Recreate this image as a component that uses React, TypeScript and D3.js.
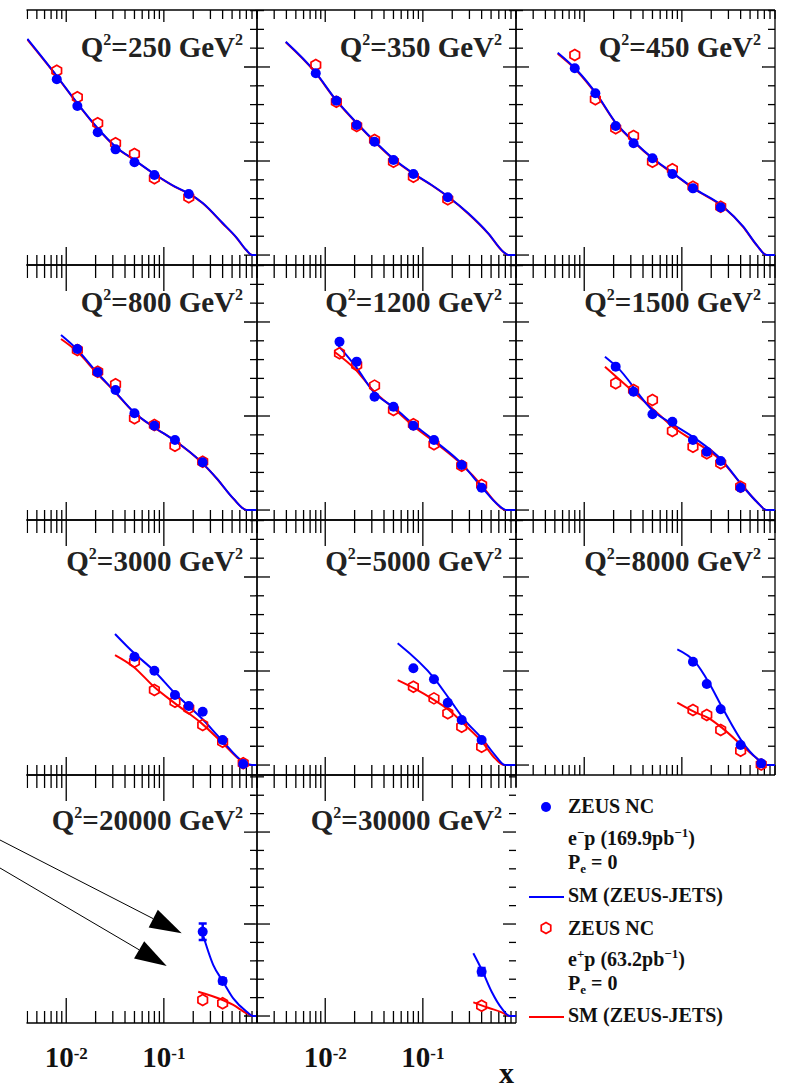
import React from "react";
import * as d3 from "d3";

type Pt = [number, number];

// ---------- DATA (y in units of major y-tick spacing, 0 = bottom floor) ----------
const q2Labels = ["250", "350", "450", "800", "1200", "1500", "3000", "5000", "8000", "20000", "30000"];

const q250_x = [0.008, 0.013, 0.021, 0.032, 0.05, 0.08, 0.18];
const q250_em = [1.869, 1.585, 1.305, 1.124, 0.986, 0.851, 0.649];
const q250_ep = [1.961, 1.678, 1.401, 1.188, 1.074, 0.816, 0.614];
const q250_smEm: Pt[] = [[0.004, 2.298], [0.008, 1.904], [0.013, 1.614], [0.021, 1.348], [0.032, 1.152], [0.05, 1.011], [0.08, 0.862], [0.13, 0.727], [0.18, 0.656], [0.25, 0.553], [0.4, 0.34], [0.55, 0.191], [0.7, 0.053], [0.8, 0], [0.9, 0]];
const q250_smEp: Pt[] = [[0.004, 2.29], [0.008, 1.9], [0.013, 1.61], [0.021, 1.345], [0.032, 1.15], [0.05, 1.009], [0.08, 0.86], [0.13, 0.725], [0.18, 0.652], [0.25, 0.55], [0.4, 0.336], [0.55, 0.188], [0.7, 0.05], [0.8, 0], [0.9, 0]];

const q350_x = [0.008, 0.013, 0.021, 0.032, 0.05, 0.08, 0.18];
const q350_em = [1.933, 1.641, 1.383, 1.205, 1.011, 0.862, 0.614];
const q350_ep = [2.021, 1.631, 1.372, 1.223, 0.993, 0.833, 0.593];
const q350_smEm: Pt[] = [[0.00394, 2.269], [0.00785, 1.95], [0.0129, 1.649], [0.0215, 1.394], [0.0324, 1.205], [0.0506, 1.018], [0.0817, 0.862], [0.123, 0.745], [0.182, 0.62], [0.292, 0.444], [0.468, 0.231], [0.667, 0.035], [0.75, 0], [0.9, 0]];
const q350_smEp: Pt[] = [[0.00394, 2.262], [0.00785, 1.945], [0.0129, 1.645], [0.0215, 1.39], [0.0324, 1.2], [0.0506, 1.014], [0.0817, 0.858], [0.123, 0.742], [0.182, 0.617], [0.292, 0.44], [0.468, 0.228], [0.667, 0.033], [0.75, 0], [0.9, 0]];

const q450_x = [0.008, 0.013, 0.021, 0.032, 0.05, 0.08, 0.13, 0.25];
const q450_em = [1.986, 1.72, 1.372, 1.188, 1.029, 0.862, 0.709, 0.507];
const q450_ep = [2.128, 1.656, 1.348, 1.266, 0.993, 0.912, 0.727, 0.514];
const q450_smEm: Pt[] = [[0.00535, 2.152], [0.00838, 1.968], [0.0136, 1.702], [0.0215, 1.394], [0.0324, 1.205], [0.0518, 1.018], [0.0817, 0.869], [0.133, 0.709], [0.266, 0.514], [0.426, 0.301], [0.585, 0.106], [0.74, 0], [0.9, 0]];
const q450_smEp: Pt[] = [[0.00535, 2.14], [0.00838, 1.96], [0.0136, 1.695], [0.0215, 1.39], [0.0324, 1.2], [0.0518, 1.014], [0.0817, 0.865], [0.133, 0.705], [0.266, 0.51], [0.426, 0.298], [0.585, 0.104], [0.74, 0], [0.9, 0]];

const q800_x = [0.013, 0.021, 0.032, 0.05, 0.08, 0.13, 0.25];
const q800_em = [1.713, 1.465, 1.277, 1.029, 0.897, 0.745, 0.507];
const q800_ep = [1.702, 1.471, 1.337, 0.976, 0.904, 0.684, 0.514];
const q800_smEm: Pt[] = [[0.00884, 1.862], [0.0128, 1.713], [0.0205, 1.465], [0.0316, 1.259], [0.0487, 1.046], [0.078, 0.886], [0.127, 0.745], [0.244, 0.507], [0.348, 0.337], [0.514, 0.124], [0.706, 0], [0.9, 0]];
const q800_smEp: Pt[] = [[0.00884, 1.819], [0.0128, 1.69], [0.0205, 1.458], [0.0316, 1.255], [0.0487, 1.043], [0.078, 0.884], [0.127, 0.743], [0.244, 0.505], [0.348, 0.335], [0.514, 0.122], [0.706, 0], [0.9, 0]];

const q1200_x = [0.014, 0.021, 0.032, 0.05, 0.08, 0.13, 0.25, 0.4];
const q1200_em = [1.79, 1.578, 1.205, 1.099, 0.897, 0.745, 0.479, 0.237];
const q1200_ep = [1.667, 1.543, 1.323, 1.064, 0.912, 0.699, 0.471, 0.266];
const q1200_smEm: Pt[] = [[0.0136, 1.748], [0.0212, 1.507], [0.0311, 1.259], [0.0518, 1.082], [0.0817, 0.904], [0.133, 0.734], [0.254, 0.486], [0.406, 0.237], [0.593, 0.053], [0.723, 0], [0.9, 0]];
const q1200_smEp: Pt[] = [[0.0124, 1.684], [0.0202, 1.5], [0.0311, 1.27], [0.0518, 1.07], [0.0817, 0.886], [0.133, 0.72], [0.254, 0.479], [0.406, 0.255], [0.548, 0.088], [0.7, 0], [0.9, 0]];

const q1500_x = [0.021, 0.032, 0.05, 0.08, 0.13, 0.18, 0.25, 0.4];
const q1500_em = [1.525, 1.259, 1.018, 0.939, 0.745, 0.62, 0.521, 0.237];
const q1500_ep = [1.348, 1.277, 1.17, 0.84, 0.674, 0.603, 0.497, 0.248];
const q1500_smEm: Pt[] = [[0.0163, 1.631], [0.0215, 1.525], [0.0518, 1.046], [0.0817, 0.91], [0.136, 0.763], [0.256, 0.532], [0.426, 0.248], [0.585, 0.088], [0.74, 0], [0.9, 0]];
const q1500_smEp: Pt[] = [[0.0163, 1.525], [0.0518, 1.064], [0.0817, 0.88], [0.136, 0.727], [0.256, 0.52], [0.426, 0.248], [0.585, 0.088], [0.74, 0], [0.9, 0]];

const q3000_x = [0.05, 0.08, 0.13, 0.18, 0.25, 0.4, 0.65];
const q3000_em = [1.152, 1.003, 0.745, 0.628, 0.567, 0.266, 0.011];
const q3000_ep = [1.099, 0.798, 0.674, 0.603, 0.426, 0.248, 0.018];
const q3000_smEm: Pt[] = [[0.0316, 1.394], [0.0498, 1.188], [0.0792, 1.003], [0.13, 0.763], [0.244, 0.497], [0.392, 0.266], [0.652, 0.035], [0.8, 0], [0.9, 0]];
const q3000_smEp: Pt[] = [[0.0316, 1.17], [0.0487, 1.046], [0.0792, 0.833], [0.13, 0.656], [0.244, 0.443], [0.401, 0.231], [0.603, 0.053], [0.72, 0], [0.9, 0]];

const q5000_x = [0.08, 0.13, 0.18, 0.25, 0.4];
const q5000_em = [1.029, 0.912, 0.663, 0.479, 0.266];
const q5000_ep = [0.833, 0.709, 0.55, 0.407, 0.195];
const q5000_smEm: Pt[] = [[0.0552, 1.295], [0.131, 0.922], [0.185, 0.709], [0.259, 0.497], [0.416, 0.266], [0.548, 0.106], [0.694, 0], [0.9, 0]];
const q5000_smEp: Pt[] = [[0.0552, 0.904], [0.0817, 0.816], [0.131, 0.691], [0.185, 0.585], [0.259, 0.443], [0.416, 0.231], [0.548, 0.071], [0.68, 0], [0.9, 0]];

const q8000_x = [0.13, 0.18, 0.25, 0.4, 0.65];
const q8000_em = [1.099, 0.862, 0.593, 0.213, 0.018];
const q8000_ep = [0.585, 0.532, 0.372, 0.152, 0.005];
const q8000_smEm: Pt[] = [[0.0898, 1.231], [0.136, 1.099], [0.19, 0.873], [0.262, 0.603], [0.426, 0.231], [0.585, 0.071], [0.74, 0], [0.9, 0]];
const q8000_smEp: Pt[] = [[0.0898, 0.663], [0.133, 0.567], [0.19, 0.497], [0.262, 0.39], [0.426, 0.195], [0.585, 0.071], [0.72, 0], [0.9, 0]];

const q20000_x = [0.25, 0.4];
const q20000_em = [0.916, 0.38];
const q20000_emErr = [0.09, 0.03];
const q20000_ep = [0.174, 0.138];
const q20000_smEm: Pt[] = [[0.244, 0.93], [0.321, 0.554], [0.401, 0.38], [0.514, 0.192], [0.706, 0.047], [0.824, 0], [0.9, 0]];
const q20000_smEp: Pt[] = [[0.225, 0.264], [0.401, 0.174], [0.514, 0.12], [0.706, 0.029], [0.824, 0], [0.9, 0]];

const q30000_x = [0.4];
const q30000_em = [0.482];
const q30000_emErr = [0.04];
const q30000_ep = [0.112];
const q30000_smEm: Pt[] = [[0.329, 0.682], [0.41, 0.482], [0.507, 0.264], [0.643, 0.083], [0.78, 0], [0.9, 0]];
const q30000_smEp: Pt[] = [[0.329, 0.149], [0.468, 0.09], [0.643, 0.04], [0.78, 0], [0.9, 0]];

const xTickLabelValues = [0.01, 0.1];
const xTickLabelExps = ["-2", "-1"];

const legendRows = ["ZEUS NC", "SM (ZEUS-JETS)"];

// ---------- LAYOUT ----------
const W = 786;
const H = 1092;
const xDomain: [number, number] = [0.002, 0.9];
const colLeft = [-2, 257, 516];
const colWidth = 259;
const rowTop = [10, 265, 520, 775];
const rowBottom = [265, 520, 775, 1023];
const rowYMin = [-0.106, -0.106, -0.106, -0.076];
const rowYMax = [2.606, 2.606, 2.606, 2.62];
const labelBaseline = [57, 312, 571, 830];
const leftClip = 26.5;
const BLUE = "#0000ff";
const RED = "#ff0000";
const FONT = "'Liberation Serif', 'Times New Roman', serif";

interface PanelDef {
  q2: string;
  col: number;
  row: number;
  x: number[];
  em: number[];
  ep: number[];
  emErr?: number[];
  smEm: Pt[];
  smEp: Pt[];
  noRight?: boolean;
}

const panels: PanelDef[] = [
  { q2: q2Labels[0], col: 0, row: 0, x: q250_x, em: q250_em, ep: q250_ep, smEm: q250_smEm, smEp: q250_smEp },
  { q2: q2Labels[1], col: 1, row: 0, x: q350_x, em: q350_em, ep: q350_ep, smEm: q350_smEm, smEp: q350_smEp },
  { q2: q2Labels[2], col: 2, row: 0, x: q450_x, em: q450_em, ep: q450_ep, smEm: q450_smEm, smEp: q450_smEp },
  { q2: q2Labels[3], col: 0, row: 1, x: q800_x, em: q800_em, ep: q800_ep, smEm: q800_smEm, smEp: q800_smEp },
  { q2: q2Labels[4], col: 1, row: 1, x: q1200_x, em: q1200_em, ep: q1200_ep, smEm: q1200_smEm, smEp: q1200_smEp },
  { q2: q2Labels[5], col: 2, row: 1, x: q1500_x, em: q1500_em, ep: q1500_ep, smEm: q1500_smEm, smEp: q1500_smEp },
  { q2: q2Labels[6], col: 0, row: 2, x: q3000_x, em: q3000_em, ep: q3000_ep, smEm: q3000_smEm, smEp: q3000_smEp },
  { q2: q2Labels[7], col: 1, row: 2, x: q5000_x, em: q5000_em, ep: q5000_ep, smEm: q5000_smEm, smEp: q5000_smEp },
  { q2: q2Labels[8], col: 2, row: 2, x: q8000_x, em: q8000_em, ep: q8000_ep, smEm: q8000_smEm, smEp: q8000_smEp },
  { q2: q2Labels[9], col: 0, row: 3, x: q20000_x, em: q20000_em, ep: q20000_ep, emErr: q20000_emErr, smEm: q20000_smEm, smEp: q20000_smEp },
  { q2: q2Labels[10], col: 1, row: 3, x: q30000_x, em: q30000_em, ep: q30000_ep, emErr: q30000_emErr, smEm: q30000_smEm, smEp: q30000_smEp, noRight: true },
];

function hexPath(cx: number, cy: number, r: number): string {
  const pts: Pt[] = d3.range(6).map((k) => {
    const a = -Math.PI / 2 + (k * Math.PI) / 3;
    return [cx + r * Math.cos(a), cy + r * Math.sin(a)];
  });
  return d3.line().curve(d3.curveLinearClosed)(pts) || "";
}

function isMajor(t: number) {
  const l = Math.log10(t);
  return Math.abs(l - Math.round(l)) < 1e-6;
}

function Panel({ p, idx }: { p: PanelDef; idx: number }) {
  const x0 = colLeft[p.col];
  const x1 = x0 + colWidth;
  const y0 = rowTop[p.row];
  const y1 = rowBottom[p.row];
  const xs = d3.scaleLog().domain(xDomain).range([x0, x1]);
  const ys = d3.scaleLinear().domain([rowYMin[p.row], rowYMax[p.row]]).range([y1, y0]);
  const line = d3
    .line<Pt>()
    .x((d) => xs(d[0]))
    .y((d) => ys(d[1]))
    .curve(d3.curveMonotoneX);
  const xt = xs.ticks();
  const yt = d3.range(0, 14).map((i) => i * 0.2).filter((v) => v <= rowYMax[p.row]);
  const topMaj = p.row === 0 ? 12 : 26;
  const topMin = p.row === 0 ? 9 : 13;
  const botMaj = p.row === 3 ? 25 : 18;
  const botMin = p.row === 3 ? 12 : 10;
  const clipId = `clip-${idx}`;
  const left = p.col === 0 ? leftClip : x0;
  const sw = 1.3;
  return (
    <g clipPath={p.col === 0 ? "url(#clipLeft)" : undefined}>
      <defs>
        <clipPath id={clipId}>
          <rect x={left} y={y0} width={x1 - left + 1} height={y1 - y0} />
        </clipPath>
      </defs>
      {/* frame */}
      <g stroke="#000" strokeWidth={sw} fill="none">
        <line x1={x0} x2={x1} y1={y0} y2={y0} />
        <line x1={x0} x2={x1} y1={y1} y2={y1} />
        {p.col > 0 && <line x1={x0} x2={x0} y1={y0} y2={y1} />}
        {!p.noRight && <line x1={x1} x2={x1} y1={y0} y2={y1} />}
        {p.noRight && <line x1={x1} x2={x1} y1={y0} y2={y0 + 12} />}
        {xt.map((t, i) => {
          const X = xs(t);
          const mj = isMajor(t);
          return (
            <g key={"xt" + i}>
              <line x1={X} x2={X} y1={y0} y2={y0 + (mj ? topMaj : topMin)} />
              <line x1={X} x2={X} y1={y1} y2={y1 - (mj ? botMaj : botMin)} />
            </g>
          );
        })}
        {yt.map((v, i) => {
          const Y = ys(v);
          const mj = Math.abs(v - Math.round(v)) < 1e-6;
          const len = mj ? 13 : 7;
          return (
            <g key={"yt" + i}>
              <line x1={x0} x2={x0 + len} y1={Y} y2={Y} />
              <line x1={x1} x2={x1 - len} y1={Y} y2={Y} />
            </g>
          );
        })}
      </g>
      {/* data */}
      <g clipPath={`url(#${clipId})`}>
        <path d={line(p.smEp) || ""} fill="none" stroke={RED} strokeWidth={2} />
        <path d={line(p.smEm) || ""} fill="none" stroke={BLUE} strokeWidth={2} />
        {p.x.map((xv, i) => (
          <path key={"ep" + i} d={hexPath(xs(xv), ys(p.ep[i]), 5.5)} fill="none" stroke={RED} strokeWidth={1.7} />
        ))}
        {p.emErr &&
          p.x.map((xv, i) => {
            const X = xs(xv);
            const ya = ys(p.em[i] - p.emErr![i]);
            const yb = ys(p.em[i] + p.emErr![i]);
            return (
              <g key={"er" + i} stroke={BLUE} strokeWidth={2.5}>
                <line x1={X} x2={X} y1={ya} y2={yb} />
                <line x1={X - 4} x2={X + 4} y1={ya} y2={ya} />
                <line x1={X - 4} x2={X + 4} y1={yb} y2={yb} />
              </g>
            );
          })}
        {p.x.map((xv, i) => (
          <circle key={"em" + i} cx={xs(xv)} cy={ys(p.em[i])} r={5} fill={BLUE} />
        ))}
      </g>
      {/* label */}
      <text x={x1 - 14} y={labelBaseline[p.row]} textAnchor="end" fontFamily={FONT} fontWeight="bold" fontSize={29} fill="#222">
        Q<tspan dy={-12} fontSize={16}>2</tspan>
        <tspan dy={12}>={p.q2} GeV</tspan>
        <tspan dy={-12} fontSize={16}>2</tspan>
      </text>
    </g>
  );
}

function Arrow({ from, to }: { from: Pt; to: Pt }) {
  const dx = to[0] - from[0];
  const dy = to[1] - from[1];
  const L = Math.hypot(dx, dy);
  const ux = dx / L;
  const uy = dy / L;
  const hl = 32;
  const hw = 10;
  const bx = to[0] - ux * hl;
  const by = to[1] - uy * hl;
  const pts: Pt[] = [to, [bx - uy * hw, by + ux * hw], [bx + uy * hw, by - ux * hw]];
  return (
    <g>
      <line x1={from[0]} y1={from[1]} x2={bx} y2={by} stroke="#000" strokeWidth={1} />
      <path d={d3.line().curve(d3.curveLinearClosed)(pts) || ""} fill="#000" />
    </g>
  );
}

export default function App() {
  const bottomScales = [0, 1].map((c) => d3.scaleLog().domain(xDomain).range([colLeft[c], colLeft[c] + colWidth]));
  const lx = 568;
  const sub = 13;
  return (
    <svg width={W} height={H} style={{ position: "absolute", left: 0, top: 0, background: "#fff" }}>
      <defs>
        <clipPath id="clipLeft">
          <rect x={leftClip} y={0} width={W} height={H} />
        </clipPath>
      </defs>
      {panels.map((p, i) => (
        <Panel key={i} p={p} idx={i} />
      ))}
      {/* bottom tick labels */}
      {bottomScales.map((s, c) =>
        xTickLabelValues.map((v, i) => (
          <text key={c + "-" + i} x={s(v)} y={1067} textAnchor="middle" fontFamily={FONT} fontWeight="bold" fontSize={29} fill="#111">
            10<tspan dy={-8} fontSize={17}>{xTickLabelExps[i]}</tspan>
          </text>
        ))
      )}
      <text x={514} y={1083} textAnchor="end" fontFamily={FONT} fontWeight="bold" fontSize={30} fill="#111">
        x
      </text>
      {/* arrows */}
      <Arrow from={[0, 840]} to={[181.7, 933.3]} />
      <Arrow from={[0, 868]} to={[166.7, 966]} />
      {/* legend */}
      <g fontFamily={FONT} fontWeight="bold" fontSize={20} fill="#111">
        <circle cx={546} cy={807} r={5} fill={BLUE} />
        <text x={lx} y={813}>{legendRows[0]}</text>
        <text x={lx} y={845}>
          e<tspan dy={-8} fontSize={sub}>−</tspan>
          <tspan dy={8}>p (169.9pb</tspan>
          <tspan dy={-8} fontSize={sub}>−1</tspan>
          <tspan dy={8}>)</tspan>
        </text>
        <text x={lx} y={869}>
          P<tspan dy={4} fontSize={sub}>e</tspan>
          <tspan dy={-4}> = 0</tspan>
        </text>
        <line x1={529} x2={564} y1={897} y2={897} stroke={BLUE} strokeWidth={2} />
        <text x={lx} y={902}>{legendRows[1]}</text>
        <path d={hexPath(546, 928, 5.5)} fill="none" stroke={RED} strokeWidth={1.7} />
        <text x={lx} y={935}>{legendRows[0]}</text>
        <text x={lx} y={966}>
          e<tspan dy={-8} fontSize={sub}>+</tspan>
          <tspan dy={8}>p (63.2pb</tspan>
          <tspan dy={-8} fontSize={sub}>−1</tspan>
          <tspan dy={8}>)</tspan>
        </text>
        <text x={lx} y={990}>
          P<tspan dy={4} fontSize={sub}>e</tspan>
          <tspan dy={-4}> = 0</tspan>
        </text>
        <line x1={529} x2={564} y1={1017} y2={1017} stroke={RED} strokeWidth={2} />
        <text x={lx} y={1022}>{legendRows[1]}</text>
      </g>
    </svg>
  );
}
